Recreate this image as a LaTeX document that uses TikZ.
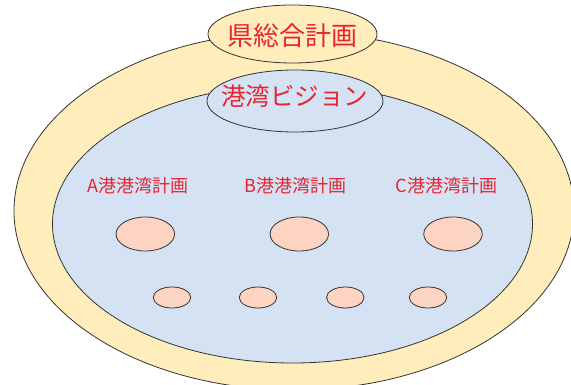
\documentclass[tikz,border=0pt]{standalone}
\usepackage{fontspec}
\setmainfont{Noto Sans CJK JP}
\usetikzlibrary{shapes.geometric}
\definecolor{outerY}{HTML}{FFEDBB}
\definecolor{innerB}{HTML}{D4E2F4}
\definecolor{salmon}{HTML}{FDD4C2}
\definecolor{txtred}{HTML}{E52530}
\definecolor{edge}{HTML}{333333}
\tikzset{
  ell/.style={ellipse, draw=edge, line width=0.8pt, inner sep=0pt, outer sep=0pt},
  lbl/.style={text=txtred, inner sep=0pt, font=\fontsize{18}{18}\selectfont},
}
\begin{document}
\begin{tikzpicture}[x=1pt,y=-1pt]
\useasboundingbox (0,0) rectangle (571,385);
% outer yellow
\node[ell, fill=outerY, minimum width=560pt, minimum height=358pt] (outer) at (294,211) {};
\node[ell, fill=outerY, minimum width=169pt, minimum height=58pt] (ken) at (292.5,34) {};
\node[text=txtred, font=\fontsize{26}{26}\selectfont, inner sep=0pt] (kent) at (292,36) {県総合計画};
% inner blue
\node[ell, fill=innerB, minimum width=480pt, minimum height=278pt] (inner) at (292.5,224) {};
\node[ell, fill=innerB, minimum width=176pt, minimum height=62pt] (vis) at (295,101) {};
\node[text=txtred, font=\fontsize{24.5}{24.5}\selectfont, inner sep=0pt] (vist) at (294.5,96) {港湾ビジョン};
% labels
\node[lbl] (la) at (138,186) {A港港湾計画};
\node[lbl] (lb) at (295.5,186) {B港港湾計画};
\node[lbl] (lc) at (446.5,186) {C港港湾計画};
% medium ellipses
\node[ell, fill=salmon, minimum width=58.5pt, minimum height=34pt] (ma) at (145.3,234) {};
\node[ell, fill=salmon, minimum width=58.5pt, minimum height=34pt] (mb) at (299.3,234) {};
\node[ell, fill=salmon, minimum width=58.5pt, minimum height=34pt] (mc) at (453,234) {};
% small ellipses
\node[ell, fill=salmon, minimum width=37.5pt, minimum height=21pt] (s1) at (172,297.5) {};
\node[ell, fill=salmon, minimum width=37.5pt, minimum height=21pt] (s2) at (258,297.5) {};
\node[ell, fill=salmon, minimum width=37.5pt, minimum height=21pt] (s3) at (345.3,297.5) {};
\node[ell, fill=salmon, minimum width=37.5pt, minimum height=21pt] (s4) at (428,297.5) {};
\end{tikzpicture}
\end{document}
